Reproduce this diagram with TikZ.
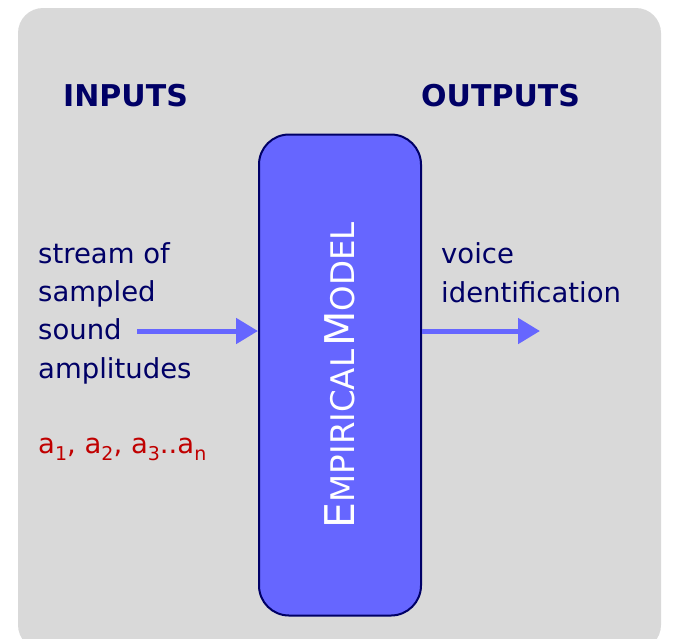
\documentclass[tikz,border=0pt]{standalone}
\usepackage{fontspec}
\setmainfont{DejaVu Sans}
\usetikzlibrary{arrows.meta}

\definecolor{navy}{HTML}{000066}
\definecolor{panel}{HTML}{D9D9D9}
\definecolor{boxblue}{HTML}{6666FF}
\definecolor{darkred}{HTML}{C00000}

\tikzset{
  heading/.style={anchor=base west, inner sep=0pt, text=navy,
    font=\fontsize{30}{30}\selectfont\bfseries},
  body/.style={anchor=base west, inner sep=0pt, align=left, text=navy,
    font=\fontsize{27.5}{38.3}\selectfont},
  flow/.style={draw=boxblue, line width=5pt, -{Triangle[length=22pt,width=25pt]}}
}

\newcommand{\capbig}[1]{{\fontsize{41}{41}\selectfont #1}}
\newcommand{\capsmall}[1]{{\fontsize{32.5}{32.5}\selectfont #1}}
\newcommand{\idx}[1]{\raisebox{-7pt}{\fontsize{19}{19}\selectfont #1}}

\begin{document}
\begin{tikzpicture}[x=1pt,y=-1pt]

\clip (0,0) rectangle (674,638);

%% background panel
\fill[panel, rounded corners=25pt] (18,8) rectangle (661,650);

%% headings
\node[heading] (inputs) at (63,106) {INPUTS};
\node[heading] (outputs) at (421,106) {OUTPUTS};

%% model box
\node[draw=navy, line width=2pt, fill=boxblue, rounded corners=30pt,
      minimum width=162pt, minimum height=481pt, inner sep=0pt, text=white]
  (model) at (340,375)
  {\rotatebox{90}{\capbig{E}\capsmall{MPIRICAL} \capbig{M}\capsmall{ODEL}}};

%% texts (base = last line)
\node[body] (stream) at (38,378) {stream of\\sampled\\sound\\amplitudes};
\node[body] (voice) at (441,302) {voice\\identification};
\node[body, text=darkred] (series) at (38,453)
  {a\idx{1}, a\idx{2}, a\idx{3}..a\idx{n}};

%% arrows
\coordinate (src) at (137,331);
\coordinate (dst) at (540,331);
\draw[flow] (src) -- (model.west |- src);
\draw[flow] (model.east |- dst) -- (dst);

\end{tikzpicture}
\end{document}
